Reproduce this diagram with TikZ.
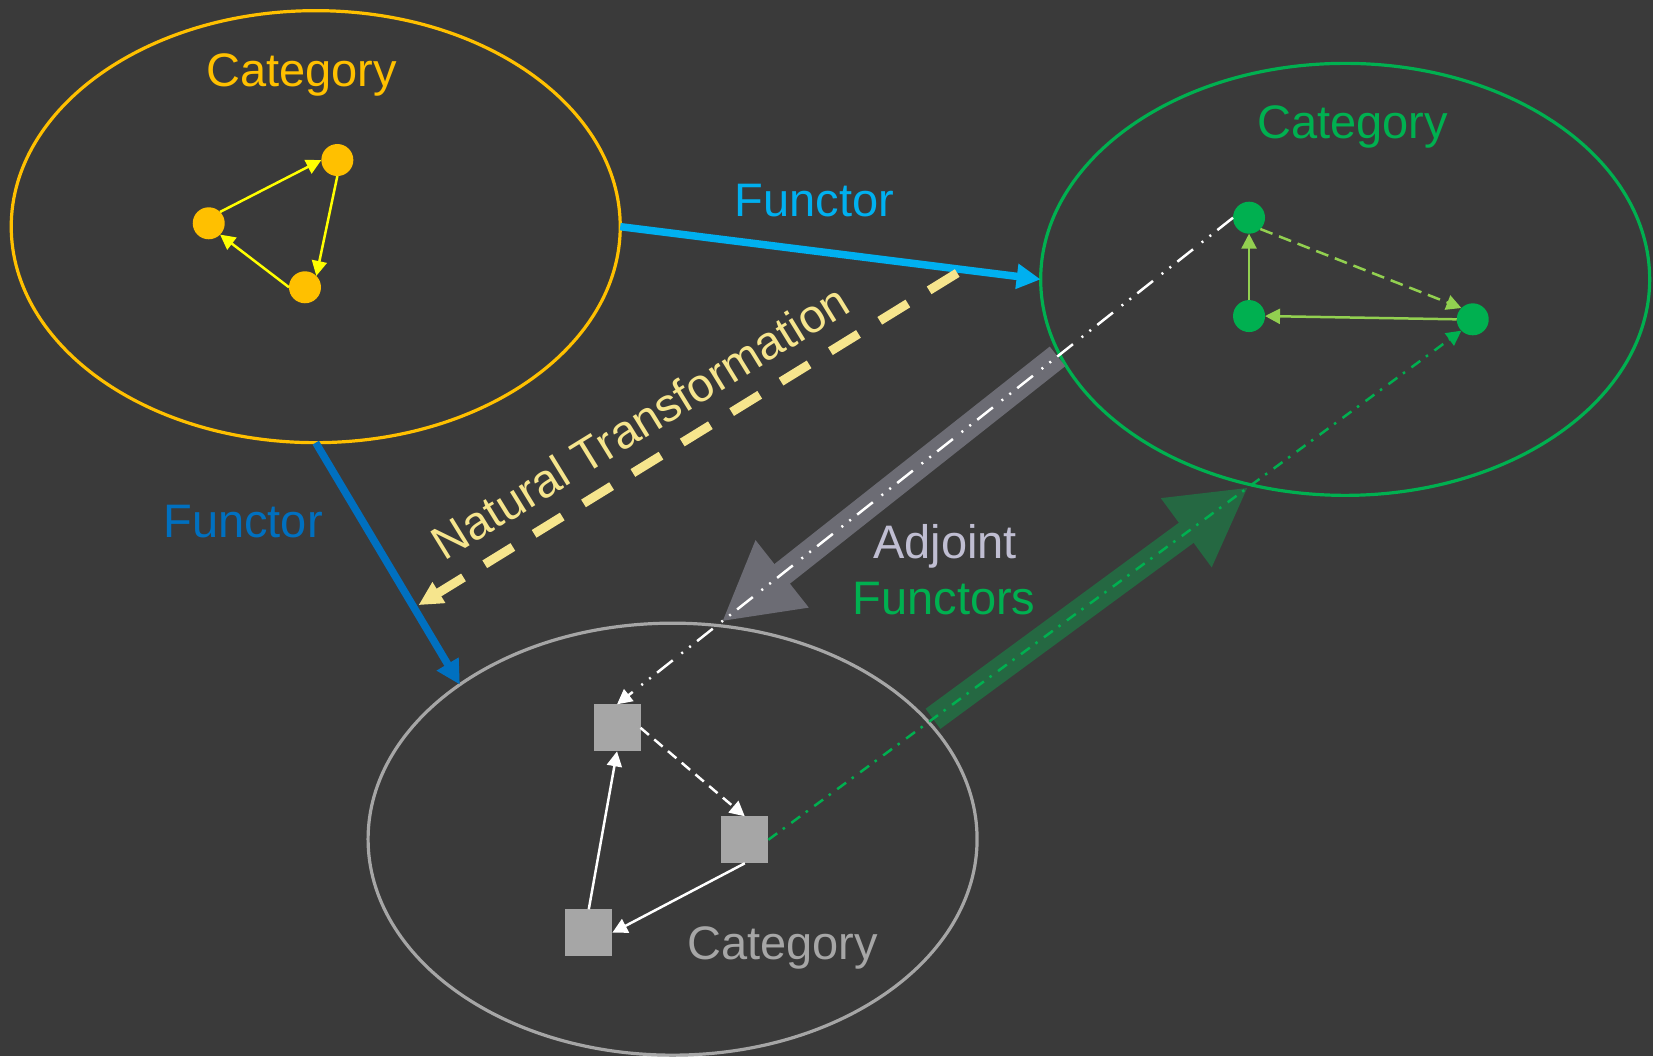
\documentclass[tikz,border=0pt]{standalone}
\usepackage{fontspec}
\setmainfont{Liberation Sans}
\usetikzlibrary{arrows.meta,calc,shapes.geometric}
\definecolor{bg}{RGB}{58,58,58}
\definecolor{cOrange}{RGB}{255,192,0}
\definecolor{cYellow}{RGB}{255,255,0}
\definecolor{cGreen}{RGB}{0,176,80}
\definecolor{cLightGreen}{RGB}{146,208,80}
\definecolor{cGray}{RGB}{166,166,166}
\definecolor{cSky}{RGB}{0,176,240}
\definecolor{cBlue}{RGB}{0,112,192}
\definecolor{cNat}{RGB}{246,229,141}
\definecolor{cAdj}{RGB}{192,190,210}
\definecolor{cBigGray}{RGB}{108,108,116}
\definecolor{cBigGreen}{RGB}{37,104,66}
\begin{document}
\begin{tikzpicture}[x=1.0542pt,y=-1.0542pt,
  every node/.style={inner sep=0pt, outer sep=0pt},
  catellipse/.style={draw, ellipse, line width=3.2pt, minimum width=609pt, minimum height=432pt},
  lbl/.style={font=\fontsize{47}{56}\selectfont, anchor=base},
  dotnode/.style={circle, minimum size=32pt},
  sqnode/.style={rectangle, fill=cGray, minimum size=47pt},
  smallarr/.style={line width=2.5pt, -{Triangle[length=15pt,width=15pt]}},
  yarr/.style={smallarr, draw=cYellow},
  lgarr/.style={smallarr, draw=cLightGreen},
  warr/.style={smallarr, draw=white},
  bigarr/.style={line width=25pt, -{Triangle[length=77pt,width=80pt]}},
  funarr/.style={line width=7.5pt, -{Triangle[length=24pt,width=24pt]}}
]
\fill[bg] (0,0) rectangle (1568,1002);
\useasboundingbox (0,0) rectangle (1568,1002);

% categories
\node[catellipse, draw=cOrange] (E1) at (299.5,215) {};
\node[catellipse, draw=cGreen] (E2) at (1276,265) {};
\node[catellipse, draw=cGray] (E3) at (638,796) {};

% objects
\node[dotnode, fill=cOrange] (O1) at (320,151.8) {};
\node[dotnode, fill=cOrange] (O2) at (198,211.8) {};
\node[dotnode, fill=cOrange] (O3) at (289.3,272.5) {};
\node[dotnode, fill=cGreen] (G1) at (1184.8,206.5) {};
\node[dotnode, fill=cGreen] (G2) at (1184.8,299.8) {};
\node[dotnode, fill=cGreen] (G3) at (1397,302.9) {};
\node[sqnode] (S1) at (585.3,690.4) {};
\node[sqnode] (S2) at (706.5,796.6) {};
\node[sqnode] (S3) at (558.5,884.8) {};

% big adjoint arrows
\coordinate (GA1) at ($(G1.west)!0.285!(S1.north)$);
\coordinate (GA2) at ($(G1.west)!0.830!(S1.north)$);
\coordinate (GR1) at ($(S2.east)!0.2376!(G3.south west)$);
\coordinate (GR2) at ($(S2.east)!0.6925!(G3.south west)$);
\draw[bigarr, draw=cBigGray] (GA1) -- (GA2);
\draw[bigarr, draw=cBigGreen] (GR1) -- (GR2);

% labels
\node[lbl, text=cOrange] (L1) at (286,82) {Category};
\node[lbl, text=cGreen] (L2) at (1283,131) {Category};
\node[lbl, text=cGray] (L3) at (742.5,910) {Category};
\node[lbl, text=cSky] (L4) at (772.5,205) {Functor};
\node[lbl, text=cBlue] (L5) at (230.5,510) {Functor};
\node[lbl, text=cAdj] (L6) at (896.5,530) {Adjoint};
\node[lbl, text=cGreen] (L7) at (895.5,583) {Functors};
\node[font=\fontsize{47}{56}\selectfont, text=cNat, rotate=31.6] (L8) at (607,400) {Natural Transformation};

% functors
\draw[funarr, draw=cSky] (E1.east) -- (E2.west);
\draw[funarr, draw=cBlue] (E1.south) -- (E3.144);

% natural transformation
\coordinate (N1) at (908,259);
\coordinate (N2) at (397,574);
\draw[draw=cNat, line width=9pt, dash pattern=on 33pt off 25pt, -{Triangle[length=24pt,width=23pt]}] (N1) -- (N2);

% morphisms
\draw[yarr] (O2.north east) -- (O1.west);
\draw[yarr] (O1.south) -- (O3.north east);
\draw[yarr] (O3.west) -- (O2.south east);
\draw[lgarr] (G2.north) -- (G1.south);
\draw[lgarr, dash pattern=on 13pt off 7pt] (G1.south east) -- (G3.north west);
\draw[lgarr] (G3.west) -- (G2.east);
\draw[warr, dash pattern=on 11pt off 7pt] (S1.east) -- (S2.north);
\draw[warr] (S2.south) -- (S3.east);
\draw[warr] (S3.north) -- (S1.south);

% adjoint mapping lines
\draw[warr, dash pattern=on 20pt off 8pt on 2pt off 8pt on 2pt off 11pt] (G1.west) -- (S1.north);
\draw[smallarr, draw=cGreen, dash pattern=on 11pt off 7pt on 2.5pt off 8pt] (S2.east) -- (G3.south west);
\end{tikzpicture}
\end{document}
